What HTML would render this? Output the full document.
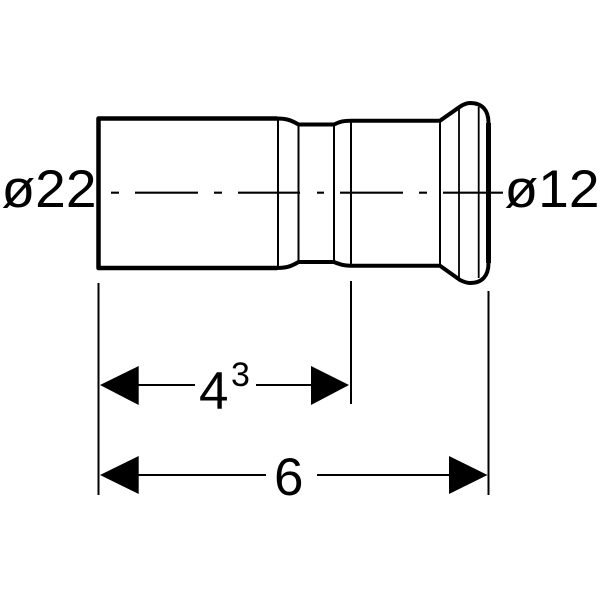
<!DOCTYPE html>
<html>
<head>
<meta charset="utf-8">
<style>
html,body{margin:0;padding:0;background:#fff;}
svg{display:block;}
text{font-family:"Liberation Sans",sans-serif;fill:#000;}
</style>
</head>
<body>
<svg width="600" height="600" viewBox="0 0 600 600" xmlns="http://www.w3.org/2000/svg">
<rect width="600" height="600" fill="#fff"/>
<g fill="none" stroke="#000" stroke-linejoin="round" stroke-linecap="butt">
<path stroke-width="4.5" d="M277 118.5H98.5V268H277"/>
<path stroke-width="4" d="M277 118.5C286 118.5 291 120 298.5 124.5H334C340 121.5 344 120.7 351 120.7"/>
<path stroke-width="4" d="M277 268C286 268 291 266.5 298.5 262H334C340 264.5 344 265.7 351 265.7"/>
<path stroke-width="4" d="M351 120.7H440L460 106.7C464 104 467 103 470 103C482 103 488.5 110 488.5 123V263C488.5 276 482 283 470 283C467 283 464 282 460 280L440 265.7H351"/>
<path stroke-width="5" d="M488.5 123V263"/>
<path stroke-width="2" d="M278 118V268M298.5 124V262M334 124V262M351 120V266M440 120V266"/>
<path stroke-width="1.8" d="M459 106V279M478.7 107V278"/>
<path stroke-width="2.2" d="M111 192.7H119M135 192.7H198M214 192.7H222M238 192.7H300M317 192.7H324M340 192.7H403M419 192.7H427M443 192.7H503"/>
<path stroke-width="2" d="M98.5 283V495M351 281V404M488.5 291V495"/>
<path stroke-width="2" d="M138 385H195M256 385H312M138 475H266M317 475H450"/>
</g>
<g fill="#000">
<polygon points="100,385 138.7,366 138.7,405"/>
<polygon points="349,385 311,366 311,405"/>
<polygon points="100,475 138.7,456 138.7,494"/>
<polygon points="487.5,475 449,456 449,494"/>
</g>
<text x="1.5" y="207" font-size="53" textLength="95" lengthAdjust="spacingAndGlyphs">ø22</text>
<text x="504.5" y="207" font-size="53" textLength="95" lengthAdjust="spacingAndGlyphs">ø12</text>
<text x="199" y="409" font-size="53">4</text>
<text x="231" y="386" font-size="34">3</text>
<text x="274" y="495" font-size="53">6</text>
</svg>
</body>
</html>
